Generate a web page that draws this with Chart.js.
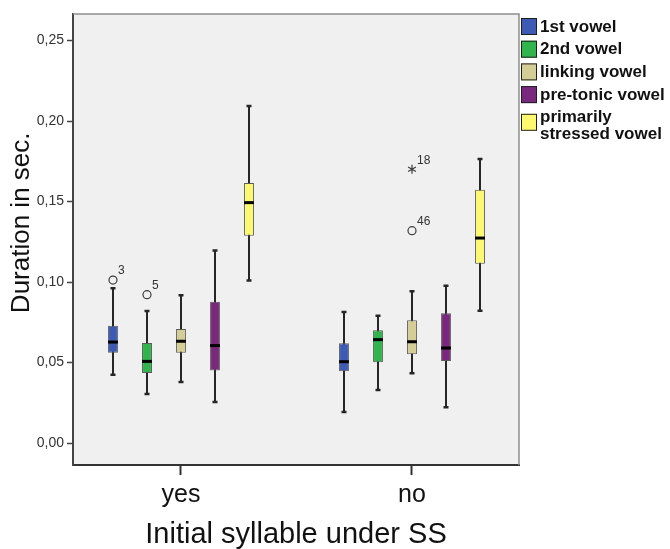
<!DOCTYPE html>
<html>
<head>
<meta charset="utf-8">
<script src="https://cdn.jsdelivr.net/npm/chart.js@4"></script>
<style>
  html, body { margin: 0; padding: 0; background: #fff; }
  #wrap { width: 670px; height: 549px; }
</style>
</head>
<body>
<div id="wrap"><canvas id="boxChart"></canvas></div>
<script>
const groups = ['yes', 'no'];
const vowels = ['1st vowel', '2nd vowel', 'linking vowel', 'pre-tonic vowel', 'primarily\nstressed vowel'];
const fills = ['#3d5ab5', '#2fb54b', '#d5cd96', '#7a287d', '#fcf86f'];

// [lower whisker, Q1, median, Q3, upper whisker] for yes / no
const firstVowel    = [[0.0424, 0.0561, 0.0627, 0.0729, 0.0961], [0.0193, 0.0445, 0.0505, 0.0619, 0.0814]];
const secondVowel   = [[0.0304, 0.0435, 0.0507, 0.0621, 0.0820], [0.0329, 0.0501, 0.0642, 0.0700, 0.0791]];
const linkingVowel  = [[0.0379, 0.0561, 0.0632, 0.0708, 0.0917], [0.0433, 0.0551, 0.0629, 0.0762, 0.0942]];
const pretonicVowel = [[0.0255, 0.0451, 0.0605, 0.0878, 0.1195], [0.0222, 0.0509, 0.0590, 0.0806, 0.0977]];
const stressedVowel = [[0.1010, 0.1288, 0.1493, 0.1615, 0.2093], [0.0822, 0.1114, 0.1273, 0.1573, 0.1764]];

// outliers: which vowel, which group, value, case number, marker
const outlierVowel = [0, 1, 2, 2];
const outlierGroup = [0, 0, 1, 1];
const outlierValue = [0.1012, 0.0921, 0.1700, 0.1319];
const outlierCase  = ['3', '5', '18', '46'];
const outlierMark  = ['circle', 'circle', 'star', 'circle'];

const yTicks = [0, 0.05, 0.10, 0.15, 0.20, 0.25];
const yTitle = 'Duration in sec.';

const summaries = [firstVowel, secondVowel, linkingVowel, pretonicVowel, stressedVowel];
const FONT = "'Liberation Sans', Arial, sans-serif";

// the box itself is a floating bar Q1..Q3, centred on the group value
const datasets = summaries.map((s, i) => ({
    label: vowels[i],
    stats: s,
    data: s.map((v, g) => ({ x: g, y: [v[1], v[3]] })),
    backgroundColor: fills[i],
    borderColor: '#5a5a5a',
    borderWidth: 1,
    borderSkipped: false
}));

// plot background, the light top/right frame and the vertical axis title
const frame = {
    id: 'frame',
    beforeDraw(chart) {
        const {ctx, chartArea: a} = chart;
        ctx.save();
        ctx.fillStyle = '#f0f0f0';
        ctx.fillRect(a.left, a.top, a.right - a.left, a.bottom - a.top);
        ctx.restore();
    },
    afterDraw(chart) {
        const {ctx, chartArea: a} = chart;
        ctx.save();
        ctx.strokeStyle = '#8e8e8e';
        ctx.lineWidth = 1.5;
        ctx.beginPath();
        ctx.moveTo(a.left, a.top);
        ctx.lineTo(a.right, a.top);
        ctx.lineTo(a.right, a.bottom);
        ctx.stroke();
        // title sits a bit above the middle of the axis
        ctx.translate(22, a.top + (a.bottom - a.top) * 0.463);
        ctx.rotate(-Math.PI / 2);
        ctx.fillStyle = '#111';
        ctx.font = '26px ' + FONT;
        ctx.textAlign = 'center';
        ctx.textBaseline = 'middle';
        ctx.fillText(yTitle, 0, 0);
        ctx.restore();
    }
};

// draws an asterisk-like star for extreme cases
function asterisk(ctx, x, y, r) {
    ctx.beginPath();
    for (let k = 0; k < 3; k++) {
        const a = Math.PI / 2 + k * Math.PI / 3;
        ctx.moveTo(x + Math.cos(a) * r, y - Math.sin(a) * r);
        ctx.lineTo(x - Math.cos(a) * r, y + Math.sin(a) * r);
    }
    ctx.stroke();
}

// whiskers behind the boxes, medians and outliers on top
const boxParts = {
    id: 'boxParts',
    beforeDatasetsDraw(chart) {
        const ctx = chart.ctx, y = chart.scales.y;
        ctx.save();
        ctx.strokeStyle = '#262626';
        chart.data.datasets.forEach((ds, i) => {
            chart.getDatasetMeta(i).data.forEach((bar, g) => {
                const s = ds.stats[g];
                const lo = y.getPixelForValue(s[0]), hi = y.getPixelForValue(s[4]);
                ctx.lineWidth = 2;
                ctx.beginPath();
                ctx.moveTo(bar.x, lo);
                ctx.lineTo(bar.x, hi);
                ctx.stroke();
                ctx.lineWidth = 2.5;
                ctx.beginPath();
                ctx.moveTo(bar.x - 2.5, lo);
                ctx.lineTo(bar.x + 2.5, lo);
                ctx.moveTo(bar.x - 2.5, hi);
                ctx.lineTo(bar.x + 2.5, hi);
                ctx.stroke();
            });
        });
        ctx.restore();
    },
    afterDatasetsDraw(chart) {
        const ctx = chart.ctx, y = chart.scales.y;
        ctx.save();
        ctx.strokeStyle = '#000';
        ctx.lineWidth = 3;
        chart.data.datasets.forEach((ds, i) => {
            chart.getDatasetMeta(i).data.forEach((bar, g) => {
                const m = y.getPixelForValue(ds.stats[g][2]);
                ctx.beginPath();
                ctx.moveTo(bar.x - bar.width / 2, m);
                ctx.lineTo(bar.x + bar.width / 2, m);
                ctx.stroke();
            });
        });
        outlierValue.forEach((v, k) => {
            const bar = chart.getDatasetMeta(outlierVowel[k]).data[outlierGroup[k]];
            const py = y.getPixelForValue(v);
            ctx.strokeStyle = '#3c3c3c';
            ctx.lineWidth = 1.2;
            if (outlierMark[k] === 'star') {
                asterisk(ctx, bar.x, py, 4.5);
            } else {
                ctx.beginPath();
                ctx.arc(bar.x, py, 4, 0, Math.PI * 2);
                ctx.stroke();
            }
            ctx.fillStyle = '#333';
            ctx.font = '12px ' + FONT;
            ctx.textAlign = 'left';
            ctx.textBaseline = 'middle';
            ctx.fillText(outlierCase[k], bar.x + 5, py - 9);
        });
        ctx.restore();
    }
};

// legend at the right of the plot, two-line labels allowed
const sideLegend = {
    id: 'sideLegend',
    afterDraw(chart) {
        const ctx = chart.ctx;
        const x0 = chart.chartArea.right + 2;
        let top = 18;
        ctx.save();
        ctx.font = 'bold 17px ' + FONT;
        ctx.textAlign = 'left';
        ctx.textBaseline = 'middle';
        chart.data.datasets.forEach(ds => {
            const lines = ds.label.split('\n');
            const boxY = top + (lines.length > 1 ? 5 : 0);
            ctx.fillStyle = ds.backgroundColor;
            ctx.fillRect(x0, boxY, 16, 17);
            ctx.strokeStyle = '#1e1e1e';
            ctx.lineWidth = 1;
            ctx.strokeRect(x0 + 0.5, boxY + 0.5, 15, 16);
            ctx.fillStyle = '#111';
            lines.forEach((t, n) => ctx.fillText(t, x0 + 19, top + 9 + n * 17));
            top += 22.7;
        });
        ctx.restore();
    }
};

new Chart(document.getElementById('boxChart'), {
    type: 'bar',
    data: { datasets },
    options: {
        responsive: true,
        maintainAspectRatio: false,
        animation: false,
        events: [],
        categoryPercentage: 0.736,
        barPercentage: 0.29,
        layout: { padding: { top: 14, right: 151, left: 0, bottom: 0 } },
        plugins: { legend: { display: false }, tooltip: { enabled: false } },
        scales: {
            x: {
                type: 'linear',
                offset: false,
                min: -0.4675,
                max: 1.4632,
                afterBuildTicks: s => { s.ticks = groups.map((g, i) => ({ value: i })); },
                afterFit: s => { s.height = 84; },
                ticks: {
                    callback: v => groups[v],
                    color: '#111',
                    font: { size: 25, family: FONT },
                    padding: 5
                },
                grid: { offset: false, drawOnChartArea: false, tickLength: 10, tickWidth: 2, tickColor: '#333' },
                border: { color: '#333', width: 2 },
                title: {
                    display: true,
                    text: 'Initial syllable under SS',
                    color: '#111',
                    font: { size: 29, family: FONT, lineHeight: 1 },
                    padding: { top: 3, bottom: 0 }
                }
            },
            y: {
                min: -0.01366,
                max: 0.26646,
                afterBuildTicks: s => { s.ticks = yTicks.map(v => ({ value: v })); },
                afterFit: s => { s.width = 73; },
                ticks: {
                    callback: v => v.toFixed(2).replace('.', ','),
                    color: '#333',
                    font: { size: 14, family: FONT },
                    padding: 3
                },
                grid: { drawOnChartArea: false, tickLength: 6, tickWidth: 1.5, tickColor: '#444' },
                border: { color: '#444', width: 2 }
            }
        }
    },
    plugins: [frame, boxParts, sideLegend]
});
</script>
</body>
</html>
